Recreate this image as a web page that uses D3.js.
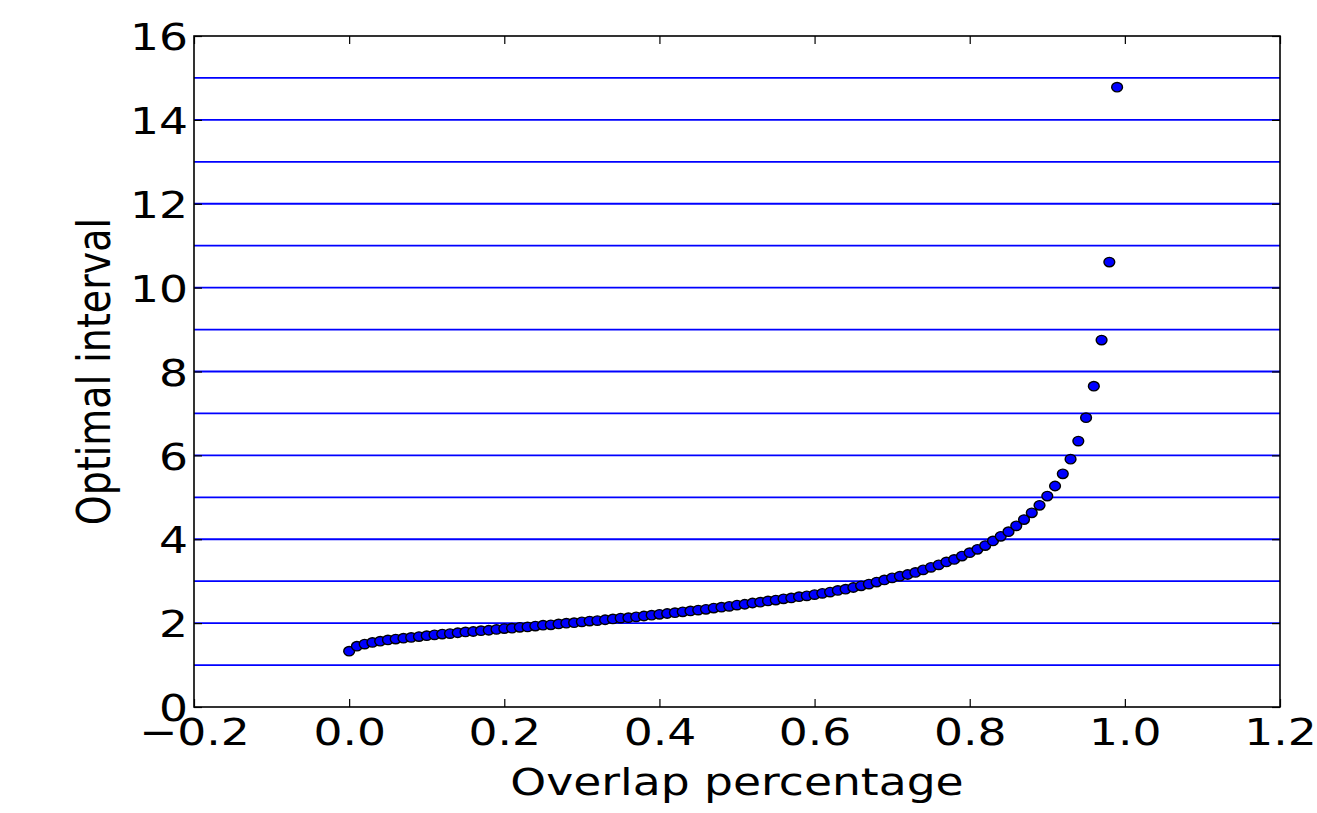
<!DOCTYPE html>
<html>
<head>
<meta charset="utf-8">
<script src="https://cdn.jsdelivr.net/npm/d3@7"></script>
<style>
  body { margin: 0; background: #fff; }
  svg { display: block; font-family: "DejaVu Sans", sans-serif; }
</style>
</head>
<body>
<div id="chart"></div>
<script>
const overlap = [
  0.00, 0.01, 0.02, 0.03, 0.04, 0.05, 0.06, 0.07, 0.08, 0.09,
  0.10, 0.11, 0.12, 0.13, 0.14, 0.15, 0.16, 0.17, 0.18, 0.19,
  0.20, 0.21, 0.22, 0.23, 0.24, 0.25, 0.26, 0.27, 0.28, 0.29,
  0.30, 0.31, 0.32, 0.33, 0.34, 0.35, 0.36, 0.37, 0.38, 0.39,
  0.40, 0.41, 0.42, 0.43, 0.44, 0.45, 0.46, 0.47, 0.48, 0.49,
  0.50, 0.51, 0.52, 0.53, 0.54, 0.55, 0.56, 0.57, 0.58, 0.59,
  0.60, 0.61, 0.62, 0.63, 0.64, 0.65, 0.66, 0.67, 0.68, 0.69,
  0.70, 0.71, 0.72, 0.73, 0.74, 0.75, 0.76, 0.77, 0.78, 0.79,
  0.80, 0.81, 0.82, 0.83, 0.84, 0.85, 0.86, 0.87, 0.88, 0.89,
  0.90, 0.91, 0.92, 0.93, 0.94, 0.95, 0.96, 0.97, 0.98, 0.99
];
const interval = [
  1.33, 1.45, 1.50, 1.54, 1.57, 1.60, 1.62, 1.64, 1.66, 1.68,
  1.70, 1.72, 1.74, 1.75, 1.77, 1.79, 1.80, 1.82, 1.83, 1.85,
  1.87, 1.88, 1.90, 1.91, 1.93, 1.95, 1.96, 1.98, 2.00, 2.01,
  2.03, 2.05, 2.06, 2.08, 2.10, 2.12, 2.13, 2.15, 2.17, 2.19,
  2.21, 2.23, 2.25, 2.27, 2.29, 2.31, 2.33, 2.36, 2.38, 2.40,
  2.43, 2.45, 2.48, 2.50, 2.53, 2.55, 2.58, 2.60, 2.63, 2.65,
  2.68, 2.71, 2.74, 2.78, 2.81, 2.85, 2.89, 2.93, 2.98, 3.03,
  3.08, 3.12, 3.16, 3.21, 3.27, 3.33, 3.39, 3.46, 3.52, 3.60,
  3.68, 3.76, 3.85, 3.96, 4.07, 4.18, 4.32, 4.47, 4.63, 4.81,
  5.03, 5.27, 5.56, 5.91, 6.34, 6.90, 7.65, 8.75, 10.61, 14.78
];
const xTicks = [-0.2, 0.0, 0.2, 0.4, 0.6, 0.8, 1.0, 1.2];
const xTickLabels = ["\u22120.2", "0.0", "0.2", "0.4", "0.6", "0.8", "1.0", "1.2"];
const yTicks = [0, 2, 4, 6, 8, 10, 12, 14, 16];
const hLines = [1, 2, 3, 4, 5, 6, 7, 8, 9, 10, 11, 12, 13, 14, 15];

const W = 1317, H = 813;
const margin = { top: 36, right: 37, bottom: 106, left: 194 };
const width = W - margin.left - margin.right;
const height = H - margin.top - margin.bottom;

// the picture is a little wider than tall, text is stretched sideways
const stretch = 1.2;
const fontSize = 38;
const tickLen = 8;

const svg = d3.select("#chart")
  .append("svg")
  .attr("width", W)
  .attr("height", H);

const g = svg.append("g")
  .attr("transform", "translate(" + margin.left + "," + margin.top + ")");

const x = d3.scaleLinear().domain([-0.2, 1.2]).range([0, width]);
const y = d3.scaleLinear().domain([0, 16]).range([height, 0]);

// horizontal blue lines
g.append("g")
  .selectAll("line")
  .data(hLines)
  .enter().append("line")
  .attr("x1", 0)
  .attr("x2", width)
  .attr("y1", d => y(d))
  .attr("y2", d => y(d))
  .attr("stroke", "#0000ff")
  .attr("stroke-width", 1.8);

// axes, ticks pointing inward on all four sides
const xBottom = g.append("g")
  .attr("transform", "translate(0," + height + ")")
  .call(d3.axisBottom(x).tickValues(xTicks).tickSize(-tickLen)
    .tickFormat((d, i) => xTickLabels[i]));
const xTop = g.append("g")
  .call(d3.axisTop(x).tickValues(xTicks).tickSize(-tickLen).tickFormat(""));
const yLeft = g.append("g")
  .call(d3.axisLeft(y).tickValues(yTicks).tickSize(-tickLen)
    .tickFormat(d3.format("d")));
const yRight = g.append("g")
  .attr("transform", "translate(" + width + ",0)")
  .call(d3.axisRight(y).tickValues(yTicks).tickSize(-tickLen).tickFormat(""));

[xBottom, xTop, yLeft, yRight].forEach(a => {
  a.select(".domain").remove();
  a.selectAll(".tick line").attr("stroke", "#000").attr("stroke-width", 1.2);
  a.selectAll(".tick text")
    .attr("font-family", "DejaVu Sans")
    .attr("font-size", fontSize)
    .attr("fill", "#000");
});

xBottom.selectAll(".tick text")
  .attr("x", 0)
  .attr("y", 0)
  .attr("dy", null)
  .attr("transform", "translate(0,38) scale(" + stretch + ",1)");

yLeft.selectAll(".tick text")
  .attr("x", 0)
  .attr("dy", "0.36em")
  .attr("transform", "translate(-6,0) scale(" + stretch + ",1)");

// frame
g.append("rect")
  .attr("width", width)
  .attr("height", height)
  .attr("fill", "none")
  .attr("stroke", "#000")
  .attr("stroke-width", 1.6);

// points
g.append("g")
  .selectAll("ellipse")
  .data(interval)
  .enter().append("ellipse")
  .attr("cx", (d, i) => x(overlap[i]))
  .attr("cy", d => y(d))
  .attr("rx", 5.4)
  .attr("ry", 4.7)
  .attr("fill", "#0000ff")
  .attr("stroke", "#000")
  .attr("stroke-width", 1.4);

// axis labels
svg.append("text")
  .attr("transform", "translate(" + (margin.left + width / 2) + ",795) scale(" + stretch + ",1)")
  .attr("text-anchor", "middle")
  .attr("font-size", fontSize)
  .text("Overlap percentage");

svg.append("text")
  .attr("transform", "translate(110," + (margin.top + height / 2) + ") scale(" + stretch + ",1) rotate(-90)")
  .attr("text-anchor", "middle")
  .attr("font-size", fontSize)
  .text("Optimal interval");
</script>
</body>
</html>
